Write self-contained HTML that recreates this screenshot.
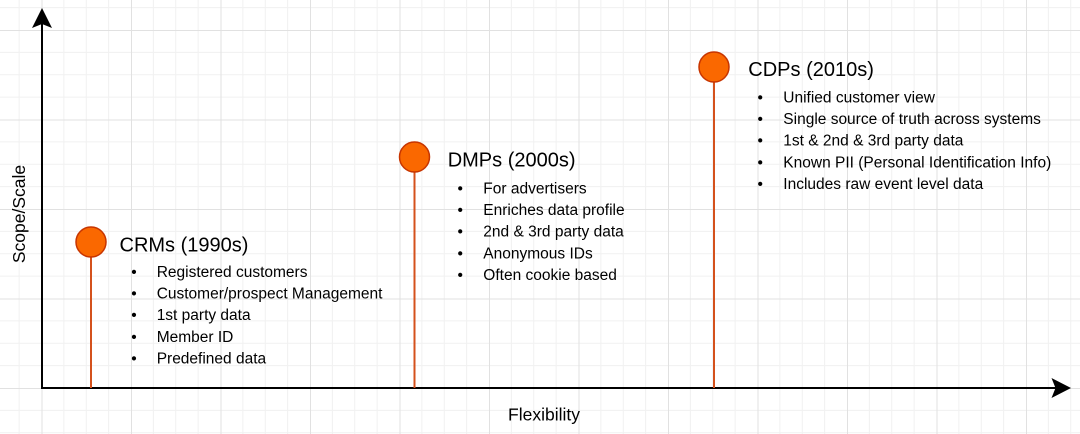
<!DOCTYPE html>
<html>
<head>
<meta charset="utf-8">
<style>
  html,body{margin:0;padding:0;background:#fff;}
  svg{display:block;}
  text{font-family:"Liberation Sans", Arial, sans-serif;fill:#000;}
  .t{font-size:20px;}
  .b{font-size:15.5px;}
  .ax{font-size:17.5px;}
</style>
</head>
<body>
<svg width="1080" height="434" viewBox="0 0 1080 434" xmlns="http://www.w3.org/2000/svg">
  <defs>
    <pattern id="grid" patternUnits="userSpaceOnUse" x="41.5" y="30" width="89.5" height="89.5">
      <rect width="89.5" height="89.5" fill="#fff"/>
      <g stroke="#f1f1f1" stroke-width="1">
        <line x1="22.375" y1="0" x2="22.375" y2="89.5"/>
        <line x1="44.75" y1="0" x2="44.75" y2="89.5"/>
        <line x1="67.125" y1="0" x2="67.125" y2="89.5"/>
        <line x1="0" y1="22.375" x2="89.5" y2="22.375"/>
        <line x1="0" y1="44.75" x2="89.5" y2="44.75"/>
        <line x1="0" y1="67.125" x2="89.5" y2="67.125"/>
      </g>
      <g stroke="#e1e1e1" stroke-width="1">
        <line x1="0.5" y1="0" x2="0.5" y2="89.5"/>
        <line x1="0" y1="0.5" x2="89.5" y2="0.5"/>
      </g>
    </pattern>
  </defs>
  <rect x="0" y="0" width="1080" height="434" fill="url(#grid)"/>

  <!-- axes -->
  <line x1="42" y1="389" x2="42" y2="24" stroke="#000" stroke-width="2"/>
  <polygon points="42,8 52,28 42,24 32,28" fill="#000"/>
  <line x1="41" y1="388" x2="1056" y2="388" stroke="#000" stroke-width="2"/>
  <polygon points="1071,388 1051.5,398 1055.5,388 1051.5,378" fill="#000"/>

  <!-- axis labels -->
  <text class="ax" x="544" y="420.5" text-anchor="middle">Flexibility</text>
  <text class="ax" transform="translate(25,214) rotate(-90)" text-anchor="middle">Scope/Scale</text>

  <!-- stems -->
  <g stroke="#d4511c" stroke-width="2">
    <line x1="91" y1="257" x2="91" y2="388"/>
    <line x1="414.5" y1="172" x2="414.5" y2="388"/>
    <line x1="714" y1="82" x2="714" y2="388"/>
  </g>
  <!-- circles -->
  <g fill="#fa6800" stroke="#c73500" stroke-width="1.5">
    <circle cx="91" cy="242" r="15"/>
    <circle cx="414.5" cy="157" r="15"/>
    <circle cx="714" cy="67" r="15"/>
  </g>

  <!-- CRMs -->
  <text class="t" x="119.5" y="251.5">CRMs (1990s)</text>
  <g class="b">
    <text class="b" x="131.3" y="277">•</text><text class="b" x="156.7" y="277">Registered customers</text>
    <text class="b" x="131.3" y="298.6">•</text><text class="b" x="156.7" y="298.6">Customer/prospect Management</text>
    <text class="b" x="131.3" y="320.2">•</text><text class="b" x="156.7" y="320.2">1st party data</text>
    <text class="b" x="131.3" y="341.8">•</text><text class="b" x="156.7" y="341.8">Member ID</text>
    <text class="b" x="131.3" y="363.4">•</text><text class="b" x="156.7" y="363.4">Predefined data</text>
  </g>

  <!-- DMPs -->
  <text class="t" x="447.7" y="166.5">DMPs (2000s)</text>
  <g>
    <text class="b" x="457.5" y="193.5">•</text><text class="b" x="483.3" y="193.5">For advertisers</text>
    <text class="b" x="457.5" y="215.1">•</text><text class="b" x="483.3" y="215.1">Enriches data profile</text>
    <text class="b" x="457.5" y="236.7">•</text><text class="b" x="483.3" y="236.7">2nd &amp; 3rd party data</text>
    <text class="b" x="457.5" y="258.3">•</text><text class="b" x="483.3" y="258.3">Anonymous IDs</text>
    <text class="b" x="457.5" y="279.9">•</text><text class="b" x="483.3" y="279.9">Often cookie based</text>
  </g>

  <!-- CDPs -->
  <text class="t" x="748.3" y="76">CDPs (2010s)</text>
  <g>
    <text class="b" x="757.5" y="102.5">•</text><text class="b" x="783.3" y="102.5">Unified customer view</text>
    <text class="b" x="757.5" y="124.1">•</text><text class="b" x="783.3" y="124.1">Single source of truth across systems</text>
    <text class="b" x="757.5" y="145.7">•</text><text class="b" x="783.3" y="145.7">1st &amp; 2nd &amp; 3rd party data</text>
    <text class="b" x="757.5" y="167.3">•</text><text class="b" x="783.3" y="167.3">Known PII (Personal Identification Info)</text>
    <text class="b" x="757.5" y="188.9">•</text><text class="b" x="783.3" y="188.9">Includes raw event level data</text>
  </g>
</svg>
</body>
</html>
